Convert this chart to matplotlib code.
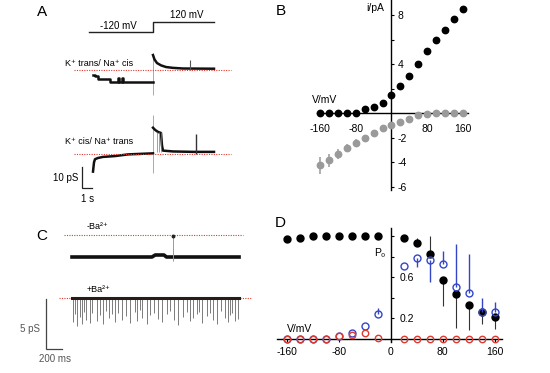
import matplotlib
matplotlib.use('Agg')
import matplotlib.pyplot as plt

plt.rcParams['font.family'] = ['Liberation Sans', 'DejaVu Sans']

# ---------------- data ----------------
# Panel A: protocol (s, mV)
prot_t = [-0.4, 6.0, 6.0, 12.1]
prot_v = [-120, -120, 120, 120]
# Panel A trace 1 (K+ trans / Na+ cis), current relative to baseline (pS)
a1_t_neg = [0.0, 0.15, 0.45, 1.7, 2.5, 2.6, 2.9, 3.0, 6.0]
a1_i_neg = [-2.2, -3.0, -4.4, -5.6, -3.8, -5.6, -3.9, -5.6, -5.6]
a1_t_pos = [6.0, 6.15, 6.4, 6.8, 7.3, 8.0, 9.0, 12.1]
a1_i_pos = [7.1, 5.0, 3.3, 2.2, 1.4, 1.0, 0.7, 0.6]
a1_spike_t = [9.7]
a1_spike_i = [4.8]
a1_transient = (8.0, -12.0)
# Panel A trace 2 (K+ cis / Na+ trans)
a2_t_neg = [0.0, 0.1, 0.2, 0.5, 1.0, 2.2, 3.5, 6.0]
a2_i_neg = [-8.4, -4.0, -2.5, -1.9, -1.4, -1.0, -0.2, 0.3]
a2_t_pos = [6.0, 6.2, 6.5, 6.8, 6.9, 7.0, 8.0, 10.0, 12.1]
a2_i_pos = [12.5, 11.5, 10.5, 10.0, 4.0, 1.6, 1.2, 1.0, 1.0]
a2_flicker_t = [6.35, 6.6, 6.8]
a2_spike_t = [10.3]
a2_spike_i = [9.5]
a2_transient = (18.6, -9.0)

# Panel B: i-V
V_B = [-160, -140, -120, -100, -80, -60, -40, -20, 0, 20, 40, 60, 80, 100, 120, 140, 160]
I_K = [0, 0, 0, 0, 0, 0.3, 0.5, 0.8, 1.45, 2.2, 3.05, 4.0, 5.05, 6.0, 6.8, 7.65, 8.5]
I_K_err = [0, 0, 0, 0, 0, 0, 0, 0, 0, 0, 0, 0, 0.1, 0.1, 0.2, 0.25, 0.25]
I_Na = [-4.27, -3.86, -3.32, -2.84, -2.43, -2.03, -1.65, -1.24, -0.97, -0.72, -0.45, -0.2, -0.05, 0, 0, 0, 0]
I_Na_err = [0.7, 0.55, 0.42, 0.35, 0.3, 0.27, 0.22, 0.15, 0.12, 0.08, 0.05, 0, 0, 0, 0, 0, 0]

# Panel C: Ba2+ block (ms, pS relative to open level)
c1_t = [0, 1000, 1040, 1150, 1180, 2088]
c1_i = [-2.2, -2.2, -2.0, -2.0, -2.2, -2.2]
c1_open_t = [1262]
c2_t = [0, 2088]
c2_i = [0, 0]
ba_t = [16, 40, 66, 95, 121, 145, 175, 225, 255, 309, 345, 391, 430, 466, 500, 538,
        580, 621, 680, 725, 788, 816, 850, 871, 934, 975, 1020, 1079, 1121, 1184,
        1230, 1275, 1329, 1391, 1440, 1475, 1516, 1559, 1590, 1621, 1684, 1720,
        1766, 1809, 1860, 1913, 1954, 1975, 2000, 2038, 2079]
ba_depth = [2.4, 1.6, 2.8, 1.9, 2.6, 1.4, 2.2, 2.5, 1.5, 2.3, 1.7, 2.6, 1.3, 2.0, 1.6, 2.4,
            1.5, 2.2, 1.8, 2.5, 1.4, 2.3, 1.2, 2.0, 2.6, 1.7, 1.5, 2.1, 2.4, 1.6,
            1.3, 2.2, 2.7, 1.9, 1.4, 2.3, 2.0, 1.6, 1.4, 2.5, 1.8, 1.5,
            2.2, 2.6, 1.3, 2.0, 2.4, 1.7, 1.5, 2.3, 2.1]

# Panel D: Po-V
V_D = [-160, -140, -120, -100, -80, -60, -40, -20, 20, 40, 60, 80, 100, 120, 140, 160]
P_black = [0.975, 0.985, 1.0, 1.0, 1.0, 1.0, 1.0, 1.0, 0.985, 0.935, 0.83, 0.57, 0.435, 0.33, 0.26, 0.21]
P_black_lo = [0, 0, 0, 0, 0, 0, 0, 0, 0, 0, 0, 0.25, 0.33, 0.24, 0.11, 0.11]
P_black_hi = [0, 0, 0, 0, 0, 0, 0, 0, 0, 0.05, 0.17, 0, 0, 0, 0, 0]
P_blue = [0, 0, 0, 0.005, 0.03, 0.06, 0.13, 0.24, 0.71, 0.79, 0.77, 0.73, 0.51, 0.45, 0.26, 0.26]
P_blue_lo = [0, 0, 0, 0, 0, 0, 0, 0, 0, 0.09, 0.22, 0, 0, 0, 0, 0]
P_blue_hi = [0, 0, 0, 0, 0, 0, 0, 0.06, 0, 0, 0, 0.12, 0.41, 0.38, 0.14, 0.1]
P_red = [0, 0, 0, 0, 0.03, 0.04, 0.06, 0.01, 0, 0, 0, 0, 0, 0, 0, 0]

# ---------------- layout ----------------
W, H = 550, 373
fig = plt.figure(figsize=(5.5, 3.73), dpi=100)


def rect(l, t, r, b):
    return [l / W, 1 - b / H, (r - l) / W, (b - t) / H]


def ftext(x, y, s, **kw):
    kw.setdefault('ha', 'center')
    kw.setdefault('va', 'center')
    fig.text(x / W, 1 - y / H, s, **kw)


RED = '#e0392f'
BLUE = '#3446c8'
GRAY = '#9a9a9a'
TR = '#111111'

# ---------- Panel A ----------
axP = fig.add_axes(rect(40, 10, 240, 40))
axP.set_xlim(-5.3, 14.7)
axP.set_ylim(-312, 408)
axP.axis('off')
axP.plot(prot_t, prot_v, color='#222', lw=1.0)

axA = fig.add_axes(rect(40, 0, 240, 205))
axA.set_xlim(-5.3, 14.7)
axA.set_ylim(0, 97.62)
axA.axis('off')
B1, B2 = 64.3, 24.3
for base in (B1, B2):
    axA.plot([-1.9, 13.8], [base, base], color=RED, lw=0.8, ls=(0, (1, 1.2)), zorder=3)
# trace 1
axA.vlines([6.0], B1 + a1_transient[1], B1 + a1_transient[0], color='#aaaaaa', lw=0.7)
axA.plot(a1_t_neg, [B1 + v for v in a1_i_neg], drawstyle='steps-post', color=TR, lw=1.8)
axA.plot(a1_t_pos, [B1 + v for v in a1_i_pos], color=TR, lw=1.8)
axA.vlines(a1_spike_t, B1, [B1 + v for v in a1_spike_i], color='#555', lw=0.8)
# trace 2
axA.vlines([6.0], B2 + a2_transient[1], B2 + a2_transient[0], color='#aaaaaa', lw=0.7)
axA.plot(a2_t_neg, [B2 + v for v in a2_i_neg], color=TR, lw=1.8)
axA.plot(a2_t_pos, [B2 + v for v in a2_i_pos], color=TR, lw=1.8)
axA.vlines(a2_flicker_t, B2 + 1.0, B2 + 10.5, color='#777', lw=0.5)
axA.vlines(a2_spike_t, B2, [B2 + v for v in a2_spike_i], color='#333', lw=1.0)
# scale bar 10 pS / 1 s
axA.plot([-1.1, -1.1, -0.1], [18.1, 8.1, 8.1], color='#222', lw=0.9, solid_joinstyle='miter')

ftext(42, 12, 'A', fontsize=11)
ftext(118, 26, '-120 mV', fontsize=7)
ftext(187, 15, '120 mV', fontsize=7)
ftext(99, 64, 'K⁺ trans/ Na⁺ cis', fontsize=6.5)
ftext(99, 141, 'K⁺ cis/ Na⁺ trans', fontsize=6.5)
ftext(78, 178, '10 pS', fontsize=7, ha='right')
ftext(88, 199, '1 s', fontsize=7)

# ---------- Panel C ----------
axC = fig.add_axes(rect(10, 215, 260, 370))
axC.set_xlim(-775, 2350)
axC.set_ylim(0, 15.5)
axC.axis('off')
O1, O2 = 13.5, 7.2
axC.plot([-100, 2138], [O1, O1], color=RED, lw=0.8, ls=(0, (1, 1.2)))
axC.plot([-163, 2238], [O2, O2], color=RED, lw=0.8, ls=(0, (1, 1.2)), zorder=1)
axC.plot(c1_t, [O1 + v for v in c1_i], color=TR, lw=2.6)
axC.vlines(c1_open_t, O1 - 2.6, O1, color='#999', lw=0.7)
axC.plot(c1_open_t, [O1 - 0.1], 'o', color='#222', ms=1.8)
axC.vlines(ba_t, [O2 - d for d in ba_depth], O2, color='#666', lw=0.6)
axC.plot(c2_t, [O2 + v for v in c2_i], color='#2a1a1a', lw=2.2, zorder=2)
axC.plot([-325, -325, -125], [7.1, 2.1, 2.1], color='#444', lw=0.9, solid_joinstyle='miter')

ftext(42, 236, 'C', fontsize=11)
ftext(97, 227, '-Ba²⁺', fontsize=6.5)
ftext(98, 290, '+Ba²⁺', fontsize=6.5)
ftext(40, 329, '5 pS', fontsize=7, ha='right', color='#555')
ftext(55, 359, '200 ms', fontsize=7, color='#555')

# ---------- Panel B ----------
axB = fig.add_axes(rect(315.5, -0.3, 469.7, 190.2))
axB.set_xlim(-170, 175)
axB.set_ylim(-6.3, 9.25)
axB.patch.set_alpha(0)
for s in ('top', 'left'):
    axB.spines[s].set_visible(False)
axB.spines['right'].set_position(('data', 0))
axB.spines['bottom'].set_position(('data', 0))
axB.spines['bottom'].set_bounds(-166, 172)
for s in ('right', 'bottom'):
    axB.spines[s].set_linewidth(1.0)
axB.yaxis.set_ticks_position('right')
axB.xaxis.set_ticks_position('bottom')
axB.set_yticks([-6, -4, -2, 2, 4, 6, 8])
axB.set_yticklabels(['-6', '-4', '-2', '', '4', '', '8'])
axB.set_xticks([-160, -80, 80, 160])
axB.set_xticklabels(['-160', '-80', '80', '160'])
axB.tick_params(axis='y', direction='out', length=2.5, width=0.8, pad=2, labelsize=7.5)
axB.tick_params(axis='x', direction='out', length=0, pad=8, labelsize=7.5)
axB.errorbar(V_B, I_Na, yerr=I_Na_err, fmt='o', color=GRAY, ms=4.6, elinewidth=1.1,
             capsize=0, zorder=3, clip_on=False)
axB.errorbar(V_B, I_K, yerr=I_K_err, fmt='o', color='black', ms=4.6, elinewidth=1.0,
             capsize=0, zorder=4, clip_on=False)
ftext(281, 11, 'B', fontsize=11)
ftext(325, 100, 'V/mV', fontsize=7.5)
ftext(375, 8, 'i/pA', fontsize=7.5)

# ---------- Panel D ----------
axD = fig.add_axes(rect(274.5, 227.8, 502.3, 344.2))
axD.set_xlim(-180, 172)
axD.set_ylim(-0.05, 1.08)
axD.patch.set_alpha(0)
for s in ('top', 'left'):
    axD.spines[s].set_visible(False)
axD.spines['right'].set_position(('data', 0))
axD.spines['bottom'].set_position(('data', 0))
axD.spines['right'].set_bounds(-0.03, 1.08)
axD.spines['bottom'].set_bounds(-176, 172)
for s in ('right', 'bottom'):
    axD.spines[s].set_linewidth(1.0)
axD.yaxis.set_ticks_position('right')
axD.xaxis.set_ticks_position('bottom')
axD.set_yticks([0.2, 0.4, 0.6, 0.8, 1.0])
axD.set_yticklabels(['0.2', '', '0.6', '', ''])
axD.set_xticks([-160, -80, 0, 80, 160])
axD.set_xticklabels(['-160', '-80', '0', '80', '160'])
axD.tick_params(axis='y', direction='out', length=2.5, width=0.8, pad=4, labelsize=7.5)
axD.tick_params(axis='x', direction='out', length=2.5, width=0.8, pad=3, labelsize=7.5)
axD.errorbar(V_D, P_black, yerr=[P_black_lo, P_black_hi], fmt='o', color='black', ms=5,
             elinewidth=0.8, ecolor='#333', capsize=0, zorder=3, clip_on=False)
axD.errorbar(V_D, P_blue, yerr=[P_blue_lo, P_blue_hi], fmt='o', mfc='none', mec=BLUE,
             ecolor=BLUE, ms=5, mew=1.0, elinewidth=1.0, capsize=0, zorder=4, clip_on=False)
axD.plot(V_D, P_red, 'o', mfc='none', mec=RED, ms=4.6, mew=1.0, zorder=5, clip_on=False)
ftext(280, 223, 'D', fontsize=11)
ftext(300, 329, 'V/mV', fontsize=7.5)
ftext(380, 253, 'P₀', fontsize=7.5)

fig.savefig('out.png', dpi=100)
